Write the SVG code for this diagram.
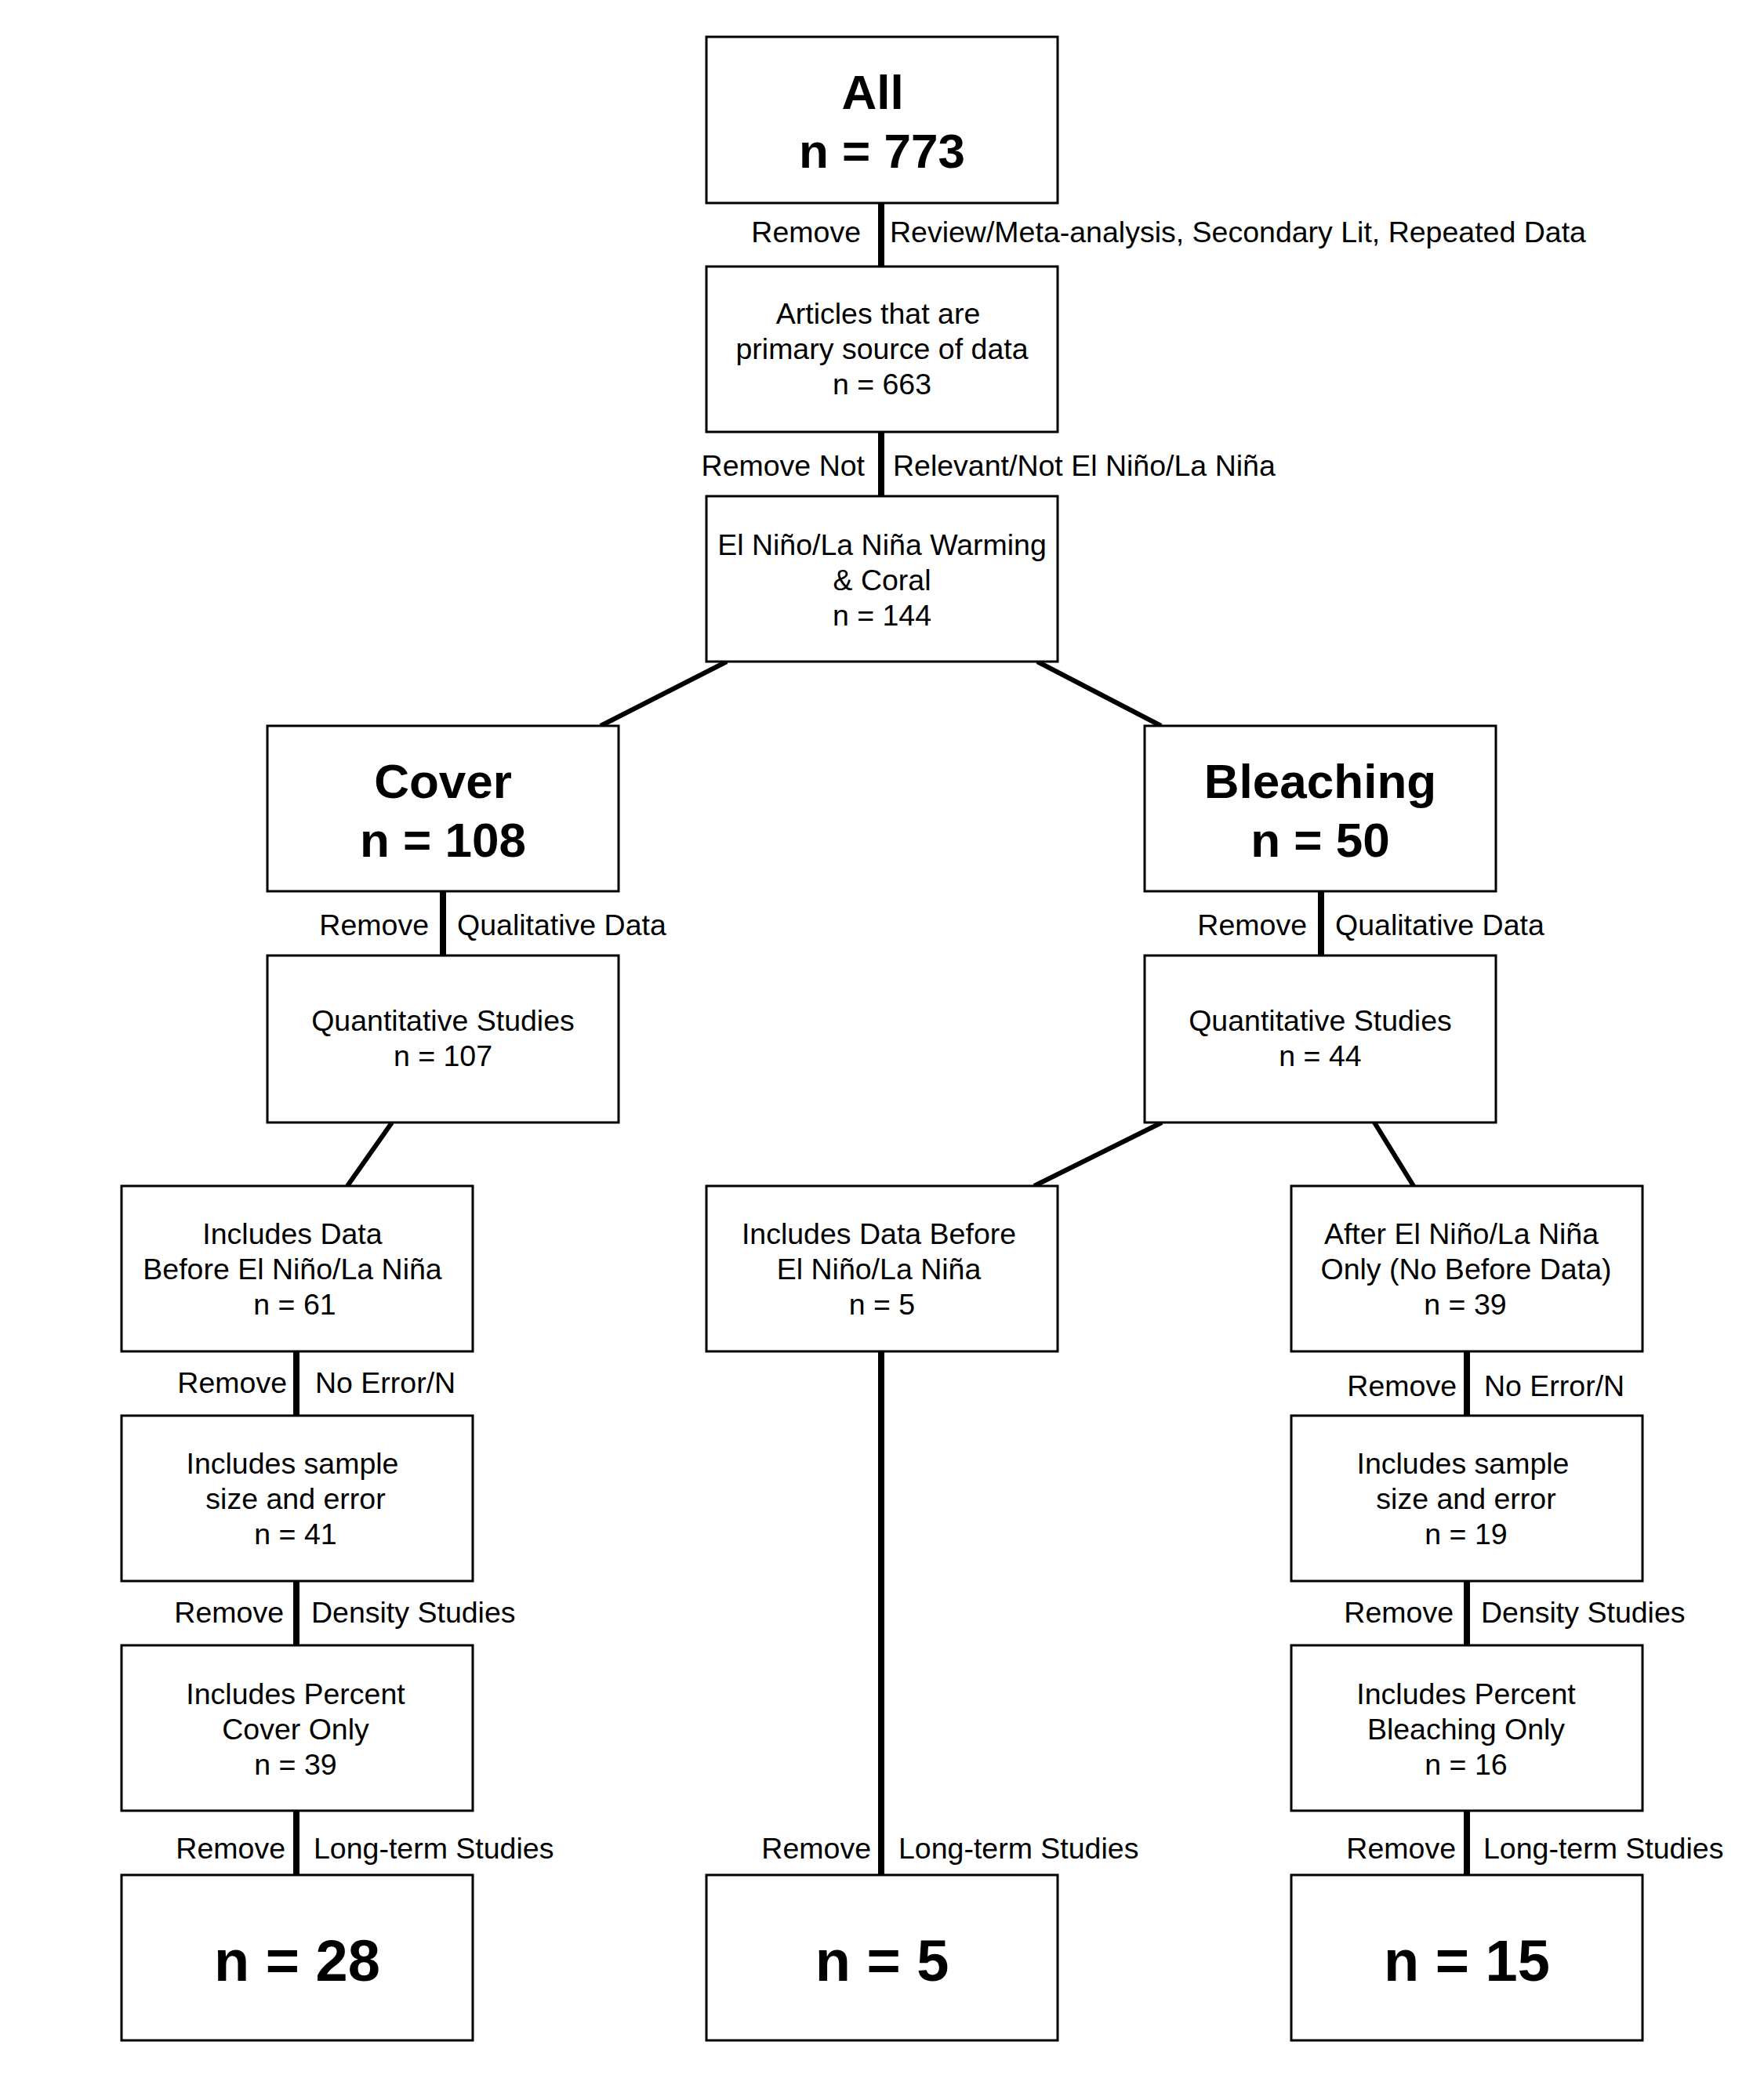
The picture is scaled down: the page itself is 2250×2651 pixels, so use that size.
<svg xmlns="http://www.w3.org/2000/svg" width="2250" height="2651" viewBox="0 0 2250 2651">
<style>
.box{fill:#fff;stroke:#000;stroke-width:3}
text{font-family:"Liberation Sans",Arial,sans-serif;fill:#000}
.t{font-size:37.5px;text-anchor:middle}
.h{font-size:62px;font-weight:bold;text-anchor:middle}
.f{font-size:74px;font-weight:bold;text-anchor:middle}
.l{font-size:37.5px;text-anchor:end}
.r{font-size:37.5px;text-anchor:start}
.v{stroke:#000;stroke-width:8;fill:none}
.d{stroke:#000;stroke-width:6;fill:none}
</style>
<rect width="2250" height="2651" fill="#fff"/>
<g id="connectors">
<line class="v" x1="1124" y1="259" x2="1124" y2="340"/>
<line class="v" x1="1124" y1="551" x2="1124" y2="633"/>
<line class="d" x1="927" y1="844" x2="766" y2="926"/>
<line class="d" x1="1323" y1="844" x2="1481" y2="926"/>
<line class="v" x1="565" y1="1137" x2="565" y2="1219"/>
<line class="v" x1="1685" y1="1137" x2="1685" y2="1219"/>
<line class="d" x1="500" y1="1432" x2="443" y2="1513"/>
<line class="d" x1="1482" y1="1432" x2="1319" y2="1513"/>
<line class="d" x1="1753" y1="1432" x2="1803" y2="1513"/>
<line class="v" x1="378" y1="1724" x2="378" y2="1806"/>
<line class="v" x1="378" y1="2017" x2="378" y2="2099"/>
<line class="v" x1="378" y1="2310" x2="378" y2="2392"/>
<line class="v" x1="1124" y1="1724" x2="1124" y2="2392"/>
<line class="v" x1="1871" y1="1724" x2="1871" y2="1806"/>
<line class="v" x1="1871" y1="2017" x2="1871" y2="2099"/>
<line class="v" x1="1871" y1="2310" x2="1871" y2="2392"/>
<text class="l" x="1098" y="309">Remove</text>
<text class="r" x="1135" y="309">Review/Meta-analysis, Secondary Lit, Repeated Data</text>
<text class="l" x="1103" y="607">Remove Not</text>
<text class="r" x="1139" y="607">Relevant/Not El Niño/La Niña</text>
<text class="l" x="547" y="1193">Remove</text>
<text class="r" x="583" y="1193">Qualitative Data</text>
<text class="l" x="1667" y="1193">Remove</text>
<text class="r" x="1703" y="1193">Qualitative Data</text>
<text class="l" x="366" y="1777">Remove</text>
<text class="r" x="402" y="1777">No Error/N</text>
<text class="l" x="1858" y="1781">Remove</text>
<text class="r" x="1893" y="1781">No Error/N</text>
<text class="l" x="362" y="2070">Remove</text>
<text class="r" x="397" y="2070">Density Studies</text>
<text class="l" x="1854" y="2070">Remove</text>
<text class="r" x="1889" y="2070">Density Studies</text>
<text class="l" x="364" y="2371">Remove</text>
<text class="r" x="400" y="2371">Long-term Studies</text>
<text class="l" x="1111" y="2371">Remove</text>
<text class="r" x="1146" y="2371">Long-term Studies</text>
<text class="l" x="1857" y="2371">Remove</text>
<text class="r" x="1892" y="2371">Long-term Studies</text>
</g>
<g id="all"><rect class="box" x="901" y="47" width="448" height="212"/>
<text class="h" x="1113" y="139">All</text><text class="h" x="1125" y="214">n = 773</text></g>
<g id="articles"><rect class="box" x="901" y="340" width="448" height="211"/>
<text class="t" x="1120" y="413">Articles that are</text><text class="t" x="1125" y="458">primary source of data</text><text class="t" x="1125" y="503">n = 663</text></g>
<g id="elnino"><rect class="box" x="901" y="633" width="448" height="211"/>
<text class="t" x="1125" y="708">El Niño/La Niña Warming</text><text class="t" x="1125" y="753">&amp; Coral</text><text class="t" x="1125" y="798">n = 144</text></g>
<g id="cover"><rect class="box" x="341" y="926" width="448" height="211"/>
<text class="h" x="565" y="1018">Cover</text><text class="h" x="565" y="1093">n = 108</text></g>
<g id="bleaching"><rect class="box" x="1460" y="926" width="448" height="211"/>
<text class="h" x="1684" y="1018">Bleaching</text><text class="h" x="1684" y="1093">n = 50</text></g>
<g id="quant-cover"><rect class="box" x="341" y="1219" width="448" height="213"/>
<text class="t" x="565" y="1315">Quantitative Studies</text><text class="t" x="565" y="1360">n = 107</text></g>
<g id="quant-bleaching"><rect class="box" x="1460" y="1219" width="448" height="213"/>
<text class="t" x="1684" y="1315">Quantitative Studies</text><text class="t" x="1684" y="1360">n = 44</text></g>
<g id="before-cover"><rect class="box" x="155" y="1513" width="448" height="211"/>
<text class="t" x="373" y="1587">Includes Data</text><text class="t" x="373" y="1632">Before El Niño/La Niña</text><text class="t" x="376" y="1677">n = 61</text></g>
<g id="before-bleaching"><rect class="box" x="901" y="1513" width="448" height="211"/>
<text class="t" x="1121" y="1587">Includes Data Before</text><text class="t" x="1121" y="1632">El Niño/La Niña</text><text class="t" x="1125" y="1677">n = 5</text></g>
<g id="after-bleaching"><rect class="box" x="1647" y="1513" width="448" height="211"/>
<text class="t" x="1864" y="1587">After El Niño/La Niña</text><text class="t" x="1870" y="1632">Only (No Before Data)</text><text class="t" x="1869" y="1677">n = 39</text></g>
<g id="sample-cover"><rect class="box" x="155" y="1806" width="448" height="211"/>
<text class="t" x="373" y="1880">Includes sample</text><text class="t" x="377" y="1925">size and error</text><text class="t" x="377" y="1970">n = 41</text></g>
<g id="sample-bleaching"><rect class="box" x="1647" y="1806" width="448" height="211"/>
<text class="t" x="1866" y="1880">Includes sample</text><text class="t" x="1870" y="1925">size and error</text><text class="t" x="1870" y="1970">n = 19</text></g>
<g id="percent-cover"><rect class="box" x="155" y="2099" width="448" height="211"/>
<text class="t" x="377" y="2174">Includes Percent</text><text class="t" x="377" y="2219">Cover Only</text><text class="t" x="377" y="2264">n = 39</text></g>
<g id="percent-bleaching"><rect class="box" x="1647" y="2099" width="448" height="211"/>
<text class="t" x="1870" y="2174">Includes Percent</text><text class="t" x="1870" y="2219">Bleaching Only</text><text class="t" x="1870" y="2264">n = 16</text></g>
<g id="final-cover"><rect class="box" x="155" y="2392" width="448" height="211"/>
<text class="f" x="379" y="2527">n = 28</text></g>
<g id="final-mid"><rect class="box" x="901" y="2392" width="448" height="211"/>
<text class="f" x="1125" y="2527">n = 5</text></g>
<g id="final-bleaching"><rect class="box" x="1647" y="2392" width="448" height="211"/>
<text class="f" x="1871" y="2527">n = 15</text></g>
</svg>
